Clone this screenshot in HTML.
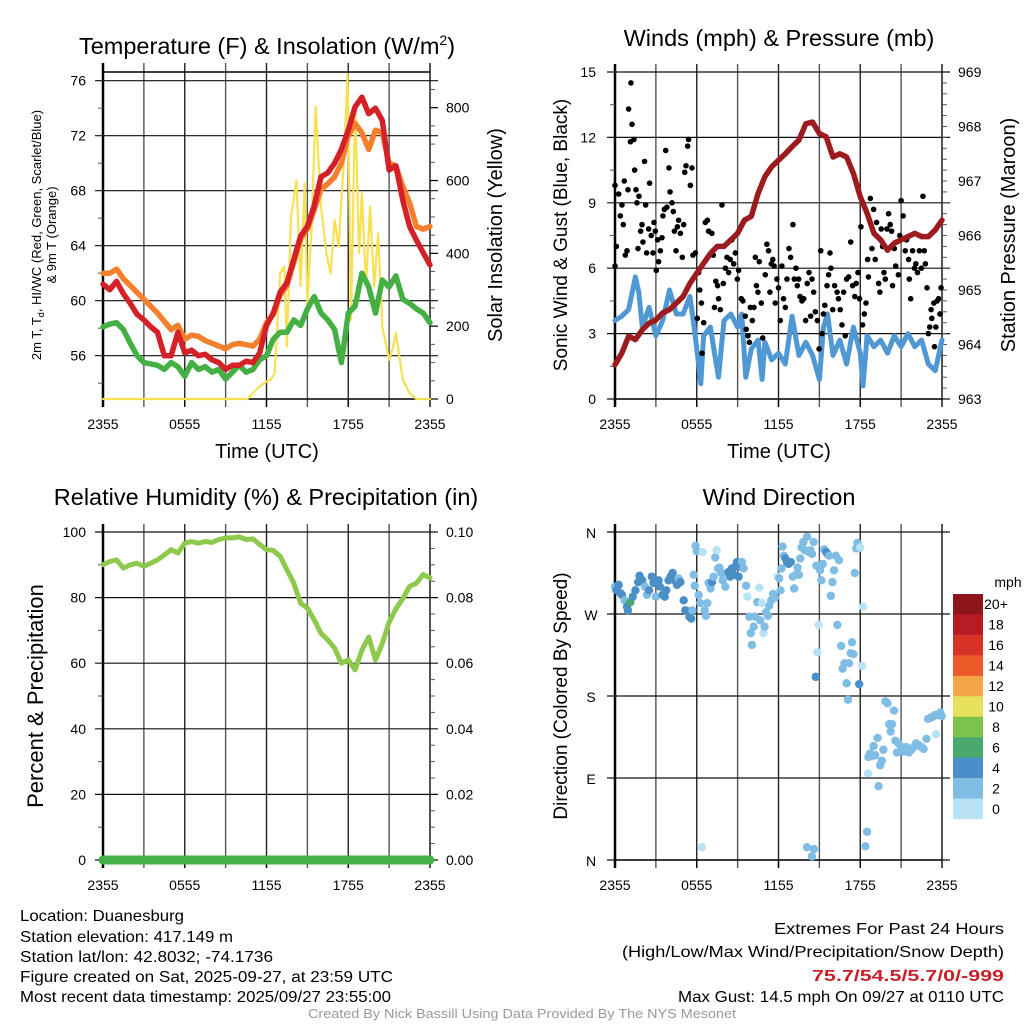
<!DOCTYPE html>
<html><head><meta charset="utf-8"><style>
html,body{margin:0;padding:0;background:#fff;}
svg{display:block;font-family:"Liberation Sans",sans-serif;}
.foot{font-family:"Liberation Sans Narrow","Liberation Sans",sans-serif;}
</style></head><body>
<svg id="fig" width="1024" height="1024" viewBox="0 0 1024 1024" xmlns="http://www.w3.org/2000/svg">
<g id="p1"></g>
<g id="p2"></g>
<g id="p3"></g>
<g id="p4"></g>
<g class="foot" font-size="16" fill="#000">
<text x="20" y="921" textLength="164" lengthAdjust="spacingAndGlyphs">Location: Duanesburg</text>
<text x="20" y="942" textLength="213" lengthAdjust="spacingAndGlyphs">Station elevation: 417.149 m</text>
<text x="20" y="962" textLength="253" lengthAdjust="spacingAndGlyphs">Station lat/lon: 42.8032; -74.1736</text>
<text x="20" y="982" textLength="373" lengthAdjust="spacingAndGlyphs">Figure created on Sat, 2025-09-27, at 23:59 UTC</text>
<text x="20" y="1002" textLength="371" lengthAdjust="spacingAndGlyphs">Most recent data timestamp: 2025/09/27 23:55:00</text>
</g>
<g class="foot" font-size="16">
<text x="774" y="934" textLength="230" lengthAdjust="spacingAndGlyphs">Extremes For Past 24 Hours</text>
<text x="622" y="957" textLength="382" lengthAdjust="spacingAndGlyphs">(High/Low/Max Wind/Precipitation/Snow Depth)</text>
<text x="812" y="981" textLength="192" lengthAdjust="spacingAndGlyphs" fill="#c8202a" font-weight="bold">75.7/54.5/5.7/0/-999</text>
<text x="678" y="1002" textLength="326" lengthAdjust="spacingAndGlyphs">Max Gust: 14.5 mph On 09/27 at 0110 UTC</text>
</g>
<text x="308" y="1018" textLength="428" lengthAdjust="spacingAndGlyphs" class="foot" font-size="13" fill="#999">Created By Nick Bassill Using Data Provided By The NYS Mesonet</text>
</svg>
<script>
// ===== Panel 1 data =====
const tempHours=[0,0.5,1,1.5,2,2.5,3,3.5,4,4.5,5,5.5,6,6.5,7,7.5,8,8.5,9,9.5,10,10.5,11,11.5,12,12.5,13,13.5,14,14.5,15,15.5,16,16.5,17,17.5,18,18.5,19,19.5,20,20.5,21,21.5,22,22.5,23,23.5,24];
const tempRed=[61.2,60.8,61.4,60.5,59.8,59.0,58.6,58.1,57.7,56.0,56.0,57.7,56.2,56.4,56.0,56.1,55.7,55.5,55.0,55.3,55.3,55.6,55.5,56.2,58.2,59.1,60.6,61.3,63.0,64.7,65.4,66.9,69.0,69.3,70.0,71.0,72.4,74.1,74.8,73.6,74.0,73.1,69.5,69.8,67.3,65.4,64.4,63.5,62.6];
const tempOrange=[62.0,62.0,62.3,61.6,61.1,60.6,60.1,59.6,59.1,58.5,57.9,58.2,57.2,57.5,57.4,57.1,56.9,56.7,56.5,56.8,56.9,56.8,56.7,57.2,58.4,59.0,60.4,61.1,62.8,64.5,65.2,66.6,68.1,68.5,69.0,70.0,72.0,72.9,72.2,71.0,72.4,72.2,70.0,69.8,68.3,67.1,65.4,65.2,65.4];
const tempGreen=[58.1,58.3,58.4,57.9,56.9,56.0,55.5,55.4,55.3,55.0,55.5,55.2,54.5,55.5,55.0,55.2,54.8,55.0,54.3,54.8,55.3,54.8,55.0,55.7,56.0,57.2,57.7,57.7,58.6,58.2,59.4,60.3,59.1,58.6,57.9,55.5,59.1,59.6,62.0,61.0,59.1,61.5,61.0,61.8,60.1,59.8,59.4,59.1,58.4];
const solarHours=[0,10.6,11,11.5,12,12.3,12.6,13,13.3,13.5,13.8,14.2,14.5,14.8,15,15.3,15.6,16,16.4,16.7,17,17.3,17.7,17.95,18.2,18.5,18.8,19,19.3,19.6,19.9,20.2,20.5,21,21.3,21.5,22,22.5,23,24];
const solarValues=[0,0,16,35,48,53,70,345,364,144,500,600,310,592,263,464,802,528,400,345,491,418,674,893,217,811,400,565,309,528,309,455,199,108,144,181,53,16,0,0];
const p1LeftTicks=[56,60,64,68,72,76];
const p1RightTicks=[0,200,400,600,800];
// ===== Panel 2 data =====
const presHours=tempHours;
const pressure=[963.63,963.84,964.15,964.09,964.27,964.39,964.45,964.58,964.64,964.76,964.88,965.12,965.31,965.49,965.67,965.8,965.8,965.92,966.04,966.28,966.35,966.77,967.08,967.26,967.38,967.5,967.63,967.75,968.05,968.08,967.87,967.81,967.44,967.5,967.44,967.14,966.71,966.41,966.04,965.92,965.73,965.86,965.92,965.98,966.04,965.98,965.98,966.1,966.28];
const windHours=[0,0.5,1,1.5,1.75,2,2.5,3,3.5,4,4.5,5,5.5,5.75,6,6.3,6.5,7,7.3,7.6,8,8.5,9,9.3,9.6,10,10.5,10.8,11,11.5,12,12.5,13,13.5,14,14.5,15,15.3,15.6,16,16.5,17,17.5,18,18.2,18.5,19,19.5,20,20.5,21,21.5,22,22.5,23,23.5,24];
const windSpeed=[3.6,3.8,4.1,5.6,4.9,3.3,4.2,2.9,3.6,5.0,3.9,3.9,4.7,3.6,2.3,0.7,2.9,3.3,2.1,1.0,3.6,3.9,3.3,3.9,1.0,2.3,2.7,0.9,2.6,1.8,2.1,1.6,3.8,2.0,2.6,2.0,0.9,3.3,3.9,2.0,2.7,1.6,3.3,2.1,0.6,2.9,2.4,2.7,2.1,2.9,2.4,3.0,2.4,2.7,1.6,1.3,2.7];
const gustHours=[0,0.1,0,0.27,0.39,0.51,0.61,0.68,0.76,0.88,0.95,1.0,1.17,1.25,1.13,1.39,1.44,1.54,1.61,1.69,1.76,1.88,1.98,2.05,2.17,2.25,2.32,2.47,2.54,2.66,2.79,2.86,2.96,3.03,3.13,3.2,3.33,3.45,3.52,3.62,3.72,3.81,3.96,4.04,4.18,4.28,4.36,4.48,4.58,4.67,4.8,4.94,5.04,5.12,5.21,5.33,5.4,5.53,5.65,5.72,5.9,6.04,6.14,6.22,6.34,6.39,6.51,6.63,6.78,6.87,7.11,7.21,7.3,7.4,7.53,7.6,7.73,7.85,7.95,8.1,8.22,8.34,8.46,8.58,8.71,8.83,8.98,9.07,9.27,9.39,9.56,9.63,9.76,9.86,9.93,10.08,10.2,10.3,10.38,10.49,10.59,10.74,10.84,11.03,11.15,11.27,11.37,11.47,11.58,11.68,11.76,11.88,12.0,12.13,12.25,12.37,12.5,12.62,12.77,12.89,13.06,13.16,13.28,13.38,13.48,13.58,13.72,13.85,13.99,14.11,14.24,14.36,14.46,14.58,14.7,14.85,14.98,15.1,15.2,15.3,15.4,15.56,15.68,15.78,15.85,15.98,16.12,16.3,16.4,16.53,16.66,16.78,16.9,17.0,17.15,17.3,17.44,17.6,17.7,17.83,17.95,18.05,18.17,18.3,18.42,18.54,18.6,18.74,18.86,18.98,19.1,19.2,19.35,19.44,19.54,19.64,19.74,19.84,19.96,20.08,20.2,20.3,20.37,20.5,20.6,20.8,20.9,21.0,21.15,21.3,21.4,21.55,21.6,21.7,21.84,21.98,22.08,22.2,22.34,22.48,22.6,22.7,22.78,22.9,23.0,23.1,23.2,23.25,23.4,23.45,23.55,23.65,23.75,23.85,23.93];
const gustSpeed=[9.8,7.0,6.1,9.4,8.4,8.9,8.0,10.0,6.6,6.8,9.6,13.3,14.5,12.6,11.8,11.9,10.5,9.6,9.0,6.9,9.3,7.7,8.0,7.2,10.9,8.9,6.7,7.8,9.9,7.5,6.7,8.1,7.7,5.9,7.3,6.3,6.8,7.4,8.4,8.7,11.4,8.8,10.6,9.5,9.0,8.6,7.7,6.8,7.9,8.2,7.6,6.5,8.0,10.4,10.7,11.6,11.9,9.8,10.6,6.6,6.7,3.7,5.8,5.0,4.4,2.1,3.5,8.1,8.2,7.7,7.6,6.6,4.2,5.4,5.2,4.6,4.1,8.9,5.3,6.0,6.5,5.8,6.4,7.3,6.2,6.7,5.5,5.9,4.6,4.5,3.8,3.2,2.9,2.6,4.2,3.6,4.2,6.5,5.2,4.9,6.3,4.4,2.8,5.7,7.1,6.8,4.9,6.2,6.4,6.1,4.4,5.5,5.1,3.6,6.1,4.6,4.2,5.5,6.9,6.5,8.0,5.5,6.0,5.2,5.5,4.7,4.5,4.6,3.6,5.3,5.8,3.8,5.5,4.9,4.0,3.6,2.3,6.8,3.0,3.9,4.3,5.2,5.7,6.7,6.0,4.1,5.2,4.9,4.6,4.1,3.4,4.9,2.9,5.5,5.6,7.2,5.2,4.7,5.3,5.8,4.6,7.9,3.4,3.9,4.4,6.4,5.6,9.2,6.9,8.7,6.4,8.1,5.3,4.9,7.8,7.0,5.8,5.5,7.8,8.5,8.0,7.7,5.2,6.9,6.1,5.7,7.5,9.1,8.4,6.8,7.3,6.4,5.5,4.6,6.8,6.0,6.2,5.8,6.8,6.0,9.3,6.8,6.2,5.1,3.0,3.3,4.1,3.7,4.4,2.4,3.3,4.5,4.6,3.9,5.1];
const p2LeftTicks=[0,3,6,9,12,15];
const p2RightTicks=[963,964,965,966,967,968,969];
// ===== Panel 3 data =====
const rhHours=tempHours;
const rhValues=[90,91,91.5,89,90,90.5,89.5,90.5,91.5,93,94.6,93.6,96.6,97.1,96.6,97.1,96.8,97.7,98.2,98.2,98.5,97.7,97.9,96.2,94.6,94.4,92.6,88.5,84.4,78.3,76.8,73.2,69.1,67.1,64.6,60,61,58,64,68,61,66,72.5,76.6,79.7,83.4,84.4,87,86];
const precipHours=[0,24];
const precipValues=[0,0];
const p3LeftTicks=[0,20,40,60,80,100];
const p3RightTicks=["0.00","0.02","0.04","0.06","0.08","0.10"];
// ===== Panel 4 data =====
const dirHours=[0.0,0.1,0.27,0.39,0.51,0.7,0.88,0.95,1.13,1.3,1.5,1.7,1.8,2.0,2.2,2.35,2.5,2.7,2.83,3.0,3.2,3.3,3.5,3.65,3.76,3.93,4.08,4.23,4.38,4.55,4.67,4.8,5.04,5.16,5.36,5.46,5.6,5.68,5.78,5.85,5.92,6.0,6.14,6.26,6.43,6.58,6.68,6.78,6.87,7.02,7.12,7.24,7.36,7.46,7.56,7.66,7.8,7.9,8.1,8.22,8.34,8.46,8.58,8.7,8.83,8.95,9.07,9.2,9.32,9.44,9.62,9.71,9.86,9.96,10.05,10.18,10.3,10.44,10.59,10.66,10.78,10.9,10.98,11.08,11.22,11.32,11.47,11.6,11.75,11.93,12.05,12.15,12.22,12.3,12.4,12.5,12.62,12.74,12.9,13.05,13.15,13.27,13.4,13.5,13.6,13.7,13.82,13.94,14.1,14.22,14.34,14.46,14.58,14.73,14.78,14.85,14.95,15.05,15.15,15.25,15.35,15.5,15.6,15.72,15.84,15.96,16.08,16.2,16.32,16.44,16.6,16.7,16.84,17.0,17.1,17.18,17.3,17.4,17.5,17.6,17.7,17.8,17.92,17.99,18.14,18.22,18.38,18.5,18.58,18.6,18.72,18.86,18.98,19.1,19.27,19.34,19.46,19.58,19.7,19.85,20.0,20.13,20.23,20.33,20.48,20.58,20.7,20.8,21.02,21.2,21.37,21.57,21.74,21.94,22.1,22.3,22.5,22.65,22.86,22.98,23.15,23.32,23.47,23.56,23.7,23.88,23.98,6.38,14.09,14.45,14.6];
const dirDegrees=[300,296,302,293,291,285,278,274,283,289,296,305,312,307,300,291,296,311,304,289,307,300,291,289,296,307,311,315,307,302,309,305,285,274,273,267,265,274,313,301,345,339,291,282,338,274,268,282,304,298,305,311,332,340,320,321,315,307,300,315,316,311,320,313,322,327,311,322,327,320,301,289,267,249,236,256,267,283,299,263,282,249,256,272,268,279,285,292,288,311,309,296,320,344,334,331,327,325,327,311,298,313,321,313,331,343,349,340,355,338,340,336,349,201,323,228,258,318,307,325,341,338,336,334,290,305,318,334,258,329,235,210,216,194,176,216,227,239,226,315,342,348,193,343,213,278,15,31,95,113,117,114,125,115,134,81,104,109,121,174,172,149,141,149,164,131,118,128,124,119,124,118,121,124,128,126,124,122,133,155,156,157,159,138,159,162,158,14,14,4,12];
const dirSpeedClass=[1,2,2,2,2,1,2,2,3,2,2,2,2,2,1,1,2,2,2,1,2,2,2,2,2,2,2,2,2,2,1,2,2,2,2,2,2,1,1,1,1,1,1,1,0,1,1,1,1,1,2,1,1,0,1,1,1,1,1,1,2,2,2,2,2,2,2,2,1,1,1,0,1,1,1,1,1,1,0,1,0,0,1,1,1,1,1,1,1,0,1,1,1,1,1,2,2,2,2,1,1,1,1,1,1,1,1,1,1,1,1,1,1,2,1,0,0,1,1,1,1,2,2,1,1,1,1,1,1,1,1,1,1,1,1,1,1,1,1,1,1,1,2,0,0,0,1,1,0,1,1,1,1,1,1,1,1,1,1,1,1,1,1,1,1,1,1,1,1,1,1,1,1,1,1,1,1,1,1,1,1,1,1,0,1,1,1,0,1,1,1];
const dirTickLabels=["N","E","S","W","N"];
const speedLegendLabels=["20+","18","16","14","12","10","8","6","4","2","0"];
const speedLegendColors=["#8e1519","#b71c22","#d73227","#ec5a2a","#f5a545","#e6e05a","#7cc24b","#49a86b","#4a8fc8","#80bde5","#b8e3f7"];
const dirDotColors=["#b8e3f7","#80bde5","#4a8fc8","#49a86b"];
const timeLabels=["2355","0555","1155","1755","2355"];

const NS="http://www.w3.org/2000/svg";
function mk(parent,tag,attrs){const e=document.createElementNS(NS,tag);for(const k in attrs)e.setAttribute(k,attrs[k]);parent.appendChild(e);return e;}
function txt(parent,x,y,s,size,anchor,extra){const t=mk(parent,"text",{x:x,y:y,"font-size":size,"text-anchor":anchor||"middle"});if(extra)for(const k in extra)t.setAttribute(k,extra[k]);t.textContent=s;return t;}
function lin(a,b,c,d){return v=>c+(v-a)/(b-a)*(d-c);}

function frame(g,x0,x1,y0,y1,xs,yTop){
  for(let h=3;h<24;h+=3){const l=mk(g,"line",{x1:xs(h),x2:xs(h),y1:yTop,y2:y1+8,stroke:(h%6===0)?"#222":"#555","stroke-width":1.4});
    
    }
  for(let h=0;h<=24;h+=6){mk(g,"line",{x1:xs(h),x2:xs(h),y1:y1,y2:y1+8,stroke:"#000","stroke-width":1.3});}
  mk(g,"line",{x1:x0,x2:x0,y1:yTop,y2:y1+8,stroke:"#000","stroke-width":2.5});
  mk(g,"line",{x1:x1,x2:x1,y1:yTop,y2:y1+8,stroke:"#555","stroke-width":2});
  mk(g,"line",{x1:x0,x2:x1,y1:y1,y2:y1,stroke:"#000","stroke-width":1.5});
  timeLabels.forEach((s,i)=>{const t=txt(g,xs(i*6),y1+30,s,14);
    
    });
}
function hgrid(g,x0,x1,y,len){mk(g,"line",{x1:x0-len,x2:x1+len,y1:y,y2:y,stroke:"#111","stroke-width":1.2});}
function pathFrom(xsArr,ysArr,xs,ys){return xsArr.map((h,i)=>(i?"L":"M")+xs(h).toFixed(1)+","+ys(ysArr[i]).toFixed(1)).join("");}
function line(g,name,xsArr,ysArr,xs,ys,color,w){const p=mk(g,"path",{d:pathFrom(xsArr,ysArr,xs,ys),fill:"none",stroke:color,"stroke-width":w,"stroke-linejoin":"round","stroke-linecap":"round"});
  
  return p;}

// ===== Panel 1 =====
(function(){
  const g=document.getElementById("p1");
  const x0=103,x1=430,y0=72,y1=399;
  const xs=lin(0,24,x0,x1), yT=lin(52.85,76.63,y1,y0), yS=lin(0,898,y1,y0);
  const title=txt(g,267,54,"Temperature (F) & Insolation (W/m",23.5);
  const sup=mk(title,"tspan",{dy:-9,"font-size":14});sup.textContent="2";
  const cl=mk(title,"tspan",{dy:9});cl.textContent=")";
  
  
  frame(g,x0,x1,y0,y1,xs,y0-9);
  mk(g,"line",{x1:x0,x2:x1,y1:y0,y2:y0,stroke:"#000","stroke-width":1.5});
  p1LeftTicks.forEach(v=>{hgrid(g,x0,x1,yT(v),8);const t=txt(g,86,yT(v)+5,String(v),14,"end");
    
    });
  for(let v=54;v<=74;v+=4)mk(g,"line",{x1:x0-5,x2:x0,y1:yT(v),y2:yT(v),stroke:"#555"});
  p1RightTicks.forEach(v=>{mk(g,"line",{x1:x1,x2:x1+8,y1:yS(v),y2:yS(v),stroke:"#000","stroke-width":1.2});const t=txt(g,446,yS(v)+5,String(v),14,"start");
    
    });
  for(let v=50;v<=850;v+=50)if(v%200)mk(g,"line",{x1:x1,x2:x1+5,y1:yS(v),y2:yS(v),stroke:"#555"});
  line(g,"solar-insolation-line",solarHours,solarValues,xs,yS,"#f7e052",2.2);
  line(g,"dewpoint-line",tempHours,tempGreen,xs,yT,"#44b043",5.5);
  line(g,"temp-9m-line",tempHours,tempOrange,xs,yT,"#f47f2c",5.5);
  line(g,"temp-2m-line",tempHours,tempRed,xs,yT,"#d42027",5.5);
  const a=txt(g,0,0,"2m T, T",13,"middle",{transform:"translate(41,235) rotate(-90)"});
  const sb=mk(a,"tspan",{"font-size":9,dy:3});sb.textContent="d";
  const rest=mk(a,"tspan",{dy:-3});rest.textContent=", HI/WC (Red, Green, Scarlet/Blue)";
  
  
  const a2=txt(g,0,0,"& 9m T (Orange)",13,"middle",{transform:"translate(56,235) rotate(-90)"});
  
  
  const r=txt(g,0,0,"Solar Insolation (Yellow)",20,"middle",{transform:"translate(502,235) rotate(-90)"});
  
  
  const xt=txt(g,267,458,"Time (UTC)",20);
  
  
})();

// ===== Panel 2 =====
(function(){
  const g=document.getElementById("p2");
  const x0=615,x1=942,y0=72,y1=399;
  const xs=lin(0,24,x0,x1), yW=lin(0,15,y1,y0), yP=lin(963,969,y1,y0);
  const title=txt(g,779,46,"Winds (mph) & Pressure (mb)",23.5);
  
  
  frame(g,x0,x1,y0,y1,xs,y0-8);
  p2LeftTicks.forEach(v=>{hgrid(g,x0,x1,yW(v),8);const t=txt(g,596,yW(v)+5,String(v),14,"end");
    
    });
  for(let v=1.5;v<15;v+=3)mk(g,"line",{x1:x0-5,x2:x0,y1:yW(v),y2:yW(v),stroke:"#555"});
  p2RightTicks.forEach(v=>{const t=txt(g,958,yP(v)+5,String(v),14,"start");
    
    });
  for(let v=963.2;v<969;v+=0.2)mk(g,"line",{x1:x1,x2:x1+5,y1:yP(v),y2:yP(v),stroke:"#555"});
  line(g,"sonic-wind-line",windHours,windSpeed,xs,yW,"#4f98d4",5);
  gustHours.forEach((h,i)=>{const c=mk(g,"circle",{cx:xs(h),cy:yW(gustSpeed[i]),r:2.8,fill:"#000"});
    
    });
  line(g,"pressure-line",presHours,pressure,xs,yP,"#9b1b1e",5.5);
  const a=txt(g,0,0,"Sonic Wind & Gust (Blue, Black)",19,"middle",{transform:"translate(567,235) rotate(-90)"});
  
  
  const r=txt(g,0,0,"Station Pressure (Maroon)",20,"middle",{transform:"translate(1015,235) rotate(-90)"});
  
  
  const xt=txt(g,779,458,"Time (UTC)",20);
  
  
})();

// ===== Panel 3 =====
(function(){
  const g=document.getElementById("p3");
  const x0=103,x1=430,y0=532,y1=860;
  const xs=lin(0,24,x0,x1), yR=lin(0,100,y1,y0), yPr=lin(0,0.1,y1,y0);
  const title=txt(g,266,505,"Relative Humidity (%) & Precipitation (in)",23.5);
  
  
  frame(g,x0,x1,y0,y1,xs,y0-8);
  p3LeftTicks.forEach((v,i)=>{hgrid(g,x0,x1,yR(v),8);const t=txt(g,86,yR(v)+5,String(v),14,"end");
    
    
    const r=txt(g,446,yR(v)+5,p3RightTicks[i],14,"start");
    
    });
  for(let v=10;v<100;v+=20)mk(g,"line",{x1:x0-5,x2:x0,y1:yR(v),y2:yR(v),stroke:"#555"});
  for(let v=5;v<100;v+=5)if(v%20)mk(g,"line",{x1:x1,x2:x1+5,y1:yR(v),y2:yR(v),stroke:"#555"});
  line(g,"relative-humidity-line",rhHours,rhValues,xs,yR,"#8dc94c",5);
  line(g,"precipitation-line",precipHours,precipValues,xs,yPr,"#45b048",9);
  const a=txt(g,0,0,"Percent & Precipitation",22,"middle",{transform:"translate(43,696) rotate(-90)"});
  
  
})();

// ===== Panel 4 =====
(function(){
  const g=document.getElementById("p4");
  const x0=615,x1=942,y0=532,y1=860;
  const xs=lin(0,24,x0,x1), yD=lin(0,360,y1,y0);
  const title=txt(g,779,505,"Wind Direction",23.5);
  
  
  frame(g,x0,x1,y0,y1,xs,y0-8);
  dirTickLabels.forEach((s,i)=>{const v=i*90;mk(g,"line",{x1:x0-8,x2:x1+8,y1:yD(v),y2:yD(v),stroke:"#111","stroke-width":1.2});
    const t=txt(g,591,yD(v)+6,s,14);
    
    });
  dirHours.forEach((h,i)=>{const c=mk(g,"circle",{cx:xs(h),cy:yD(dirDegrees[i]),r:4.2,fill:dirDotColors[dirSpeedClass[i]]});
    
    });
  const a=txt(g,0,0,"Direction (Colored By Speed)",19,"middle",{transform:"translate(567,696) rotate(-90)"});
  
  
  const lg=mk(g,"g",{});
  
  
  const bh=225/speedLegendColors.length;
  speedLegendColors.forEach((c,i)=>{const r=mk(lg,"rect",{x:953,y:594+i*bh,width:30,height:bh+0.3,fill:c});
    
    
    const t=txt(lg,996,594+i*bh+bh/2+5,speedLegendLabels[i],14);
    
    });
  const u=txt(lg,1008,587,"mph",14);
  
  
})();
</script>
</body></html>
